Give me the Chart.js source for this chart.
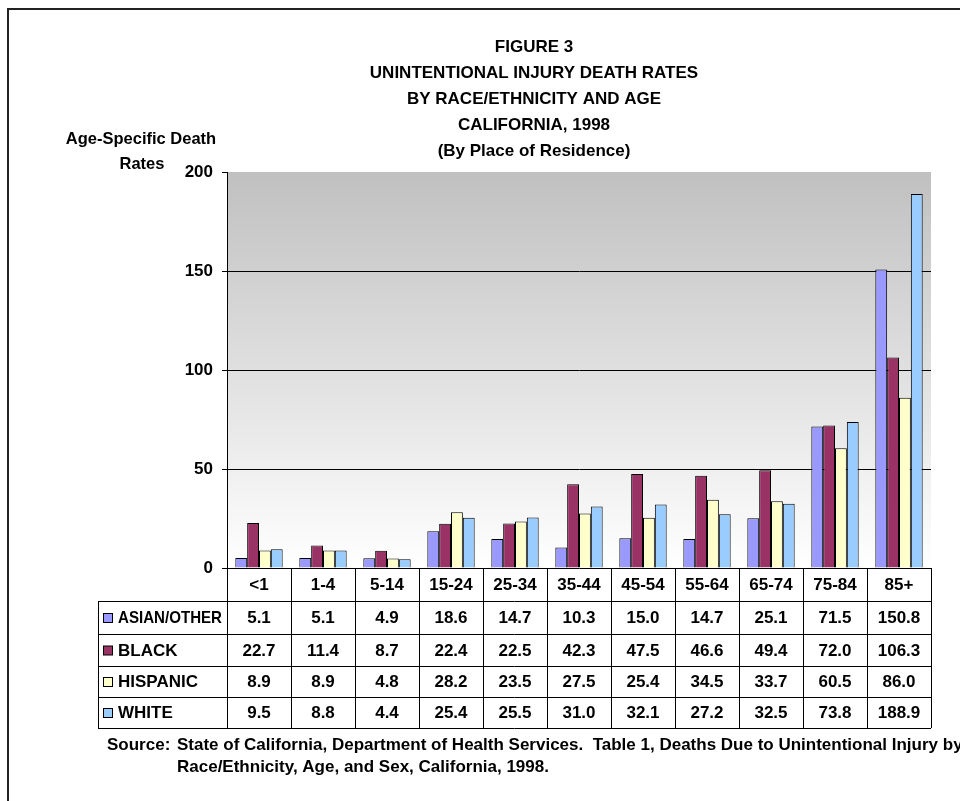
<!DOCTYPE html>
<html>
<head>
<meta charset="utf-8">
<script src="https://cdn.jsdelivr.net/npm/chart.js@4/dist/chart.umd.min.js"></script>
<style>
  body { margin: 0; background: #fff; }
  canvas { display: block; }
</style>
</head>
<body>
<canvas id="grafico" width="960" height="801"></canvas>
<script>
var fasceEta = ['<1', '1-4', '5-14', '15-24', '25-34', '35-44', '45-54', '55-64', '65-74', '75-84', '85+'];
var asianOther = [5.1, 5.1, 4.9, 18.6, 14.7, 10.3, 15.0, 14.7, 25.1, 71.5, 150.8];
var black = [22.7, 11.4, 8.7, 22.4, 22.5, 42.3, 47.5, 46.6, 49.4, 72.0, 106.3];
var hispanic = [8.9, 8.9, 4.8, 28.2, 23.5, 27.5, 25.4, 34.5, 33.7, 60.5, 86.0];
var white = [9.5, 8.8, 4.4, 25.4, 25.5, 31.0, 32.1, 27.2, 32.5, 73.8, 188.9];
var nomiSerie = ['ASIAN/OTHER', 'BLACK', 'HISPANIC', 'WHITE'];
var coloriSerie = ['#9999ff', '#993366', '#ffffcc', '#99ccff'];
var titolo = ['FIGURE 3', 'UNINTENTIONAL INJURY DEATH RATES', 'BY RACE/ETHNICITY AND AGE', 'CALIFORNIA, 1998', '(By Place of Residence)'];
var titoloAsseY = ['Age-Specific Death', 'Rates'];
var fonteEtichetta = 'Source:';
var fonte = ['State of California, Department of Health Services.  Table 1, Deaths Due to Unintentional Injury by',
             'Race/Ethnicity, Age, and Sex, California, 1998.'];

var serie = [asianOther, black, hispanic, white];
var FONT = 'Liberation Sans, Arial, sans-serif';

// sfondo sfumato dell'area del grafico
var sfondo = {
  id: 'sfondo',
  beforeDraw: function (chart) {
    var ctx = chart.ctx, a = chart.chartArea;
    ctx.save();
    ctx.fillStyle = '#ffffff';
    ctx.fillRect(0, 0, chart.width, chart.height);
    var g = ctx.createLinearGradient(0, a.top, 0, a.bottom);
    g.addColorStop(0, '#c0c0c0');
    g.addColorStop(1, '#ffffff');
    ctx.fillStyle = g;
    ctx.fillRect(a.left, a.top, a.right - a.left, a.bottom - a.top);
    ctx.restore();
  }
};

function scrivi(ctx, testo, x, y, align, size, maxW) {
  ctx.font = 'bold ' + size + 'px ' + FONT;
  ctx.textAlign = align;
  ctx.textBaseline = 'middle';
  if (maxW) ctx.fillText(testo, x, y, maxW);
  else ctx.fillText(testo, x, y);
}

// cornice, titoli, tabella dati e fonte
var tabella = {
  id: 'tabella',
  afterDraw: function (chart) {
    var ctx = chart.ctx, a = chart.chartArea;
    var xs = chart.scales.x;
    var larg = (a.right - a.left) / fasceEta.length;
    ctx.save();
    ctx.fillStyle = '#000';

    // cornice
    ctx.strokeStyle = '#222';
    ctx.lineWidth = 2;
    ctx.beginPath();
    ctx.moveTo(8, 801);
    ctx.lineTo(8, 9);
    ctx.lineTo(960, 9);
    ctx.stroke();

    // titolo
    for (var i = 0; i < titolo.length; i++) {
      scrivi(ctx, titolo[i], 534, 47 + i * 26, 'center', 17);
    }
    scrivi(ctx, titoloAsseY[0], 141, 139, 'center', 16.5);
    scrivi(ctx, titoloAsseY[1], 142, 164, 'center', 16.5);

    // righe della tabella
    var righe = [a.bottom, a.bottom + 33, a.bottom + 66, a.bottom + 98, a.bottom + 129, a.bottom + 160];
    var sinistra = 98;
    ctx.strokeStyle = '#000';
    ctx.lineWidth = 1;
    ctx.beginPath();
    for (var r = 1; r < righe.length; r++) {
      ctx.moveTo(sinistra, righe[r] + 0.5);
      ctx.lineTo(a.right, righe[r] + 0.5);
    }
    for (var c = 0; c <= fasceEta.length; c++) {
      var xl = Math.round(a.left + c * larg) + 0.5;
      ctx.moveTo(xl, righe[0]);
      ctx.lineTo(xl, righe[righe.length - 1]);
    }
    ctx.moveTo(sinistra + 0.5, righe[1]);
    ctx.lineTo(sinistra + 0.5, righe[righe.length - 1]);
    ctx.stroke();

    // etichette delle categorie e valori
    for (var k = 0; k < fasceEta.length; k++) {
      var cx = xs.getPixelForValue(k);
      scrivi(ctx, fasceEta[k], cx, (righe[0] + righe[1]) / 2 + 1, 'center', 17);
      for (var s = 0; s < serie.length; s++) {
        scrivi(ctx, serie[s][k].toFixed(1), cx, (righe[s + 1] + righe[s + 2]) / 2 + 1, 'center', 17);
      }
    }

    // legenda nella tabella
    for (var s2 = 0; s2 < nomiSerie.length; s2++) {
      var cy = (righe[s2 + 1] + righe[s2 + 2]) / 2;
      ctx.fillStyle = coloriSerie[s2];
      ctx.fillRect(103.5, cy - 4, 9, 9);
      ctx.strokeRect(103.5, cy - 4, 9, 9);
      ctx.fillStyle = '#000';
      scrivi(ctx, nomiSerie[s2], 118, cy + 1, 'left', 17, 104);
    }

    // fonte
    scrivi(ctx, fonteEtichetta, 107, 745, 'left', 17);
    scrivi(ctx, fonte[0], 177, 745, 'left', 17);
    scrivi(ctx, fonte[1], 177, 767, 'left', 17);
    ctx.restore();
  }
};

var ctx = document.getElementById('grafico').getContext('2d');
var grafico = new Chart(ctx, {
  type: 'bar',
  data: {
    labels: fasceEta,
    datasets: nomiSerie.map(function (nome, i) {
      return {
        label: nome,
        data: serie[i],
        backgroundColor: coloriSerie[i],
        borderColor: '#000',
        borderWidth: 1,
        categoryPercentage: 0.74,
        barPercentage: 1
      };
    })
  },
  options: {
    responsive: false,
    animation: false,
    layout: { padding: { left: 0, top: 172, right: 29, bottom: 233 } },
    plugins: {
      legend: { display: false },
      title: { display: false },
      tooltip: { enabled: false }
    },
    scales: {
      x: {
        ticks: { display: false },
        grid: { display: false },
        border: { display: true, color: '#000', width: 1 },
        afterFit: function (scale) { scale.height = 0; }
      },
      y: {
        min: 0,
        max: 200,
        ticks: {
          stepSize: 50,
          color: '#000',
          padding: 9,
          font: { family: FONT, size: 17, weight: 'bold' }
        },
        grid: {
          color: function (c) {
            var v = c.tick ? c.tick.value : 0;
            return (v > 0 && v < 200) ? '#000' : 'rgba(0,0,0,0)';
          },
          tickColor: '#000',
          tickLength: 5
        },
        border: { display: true, color: '#000', width: 1 },
        afterFit: function (scale) { scale.width = 227; }
      }
    }
  },
  plugins: [sfondo, tabella]
});
</script>
</body>
</html>
